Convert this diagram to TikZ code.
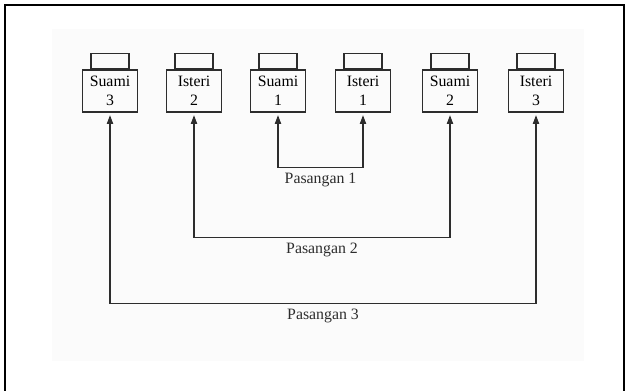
\documentclass[tikz,border=0pt]{standalone}
\usepackage{fontspec}
\setmainfont{Liberation Serif}
\usetikzlibrary{arrows.meta,positioning}
\definecolor{inkgray}{RGB}{45,45,45}
\definecolor{scangray}{RGB}{251,251,251}

\begin{document}
\begin{tikzpicture}[x=0.02cm, y=-0.02cm, >={Triangle[length=5pt,width=3.6pt]},
    person/.style={draw=inkgray, line width=0.65pt, minimum width=1.1cm, minimum height=0.84cm,
      align=center, inner sep=1pt, font=\fontsize{9}{11}\selectfont},
    tab/.style={draw=inkgray, line width=0.65pt, minimum width=0.76cm, minimum height=0.3cm, inner sep=0pt},
    pair/.style={inkgray, line width=0.65pt, <->, shorten <=1.5pt, shorten >=1.5pt},
    pairlabel/.style={below, inner sep=3pt, font=\fontsize{9}{11}\selectfont}]
    \useasboundingbox (0,0) rectangle (627,391);
    % frame and scanned page
    \fill[scangray] (52,29) rectangle (584,361);
    \draw[line width=1.2pt] (5,391) -- (5,5) -- (624,5) -- (624,391);

    % suami and isteri
    \node[person] (s3) at (110,91) {Suami\\3};
    \node[person] (i2) at (194,91) {Isteri\\2};
    \node[person] (s1) at (278,91) {Suami\\1};
    \node[person] (i1) at (363,91) {Isteri\\1};
    \node[person] (s2) at (450,91) {Suami\\2};
    \node[person] (i3) at (536,91) {Isteri\\3};
    \foreach \p in {s3,i2,s1,i1,s2,i3}
      \node[tab, above=0pt of \p] (\p tab) {};

    % pasangan
    \draw[pair] (s1.south) -- ++(0,55) -| node[pairlabel, pos=0.25] (lbl1) {Pasangan 1} (i1.south);
    \draw[pair] (i2.south) -- ++(0,125) -| node[pairlabel, pos=0.25] (lbl2) {Pasangan 2} (s2.south);
    \draw[pair] (s3.south) -- ++(0,191) -| node[pairlabel, pos=0.25] (lbl3) {Pasangan 3} (i3.south);
\end{tikzpicture}
\end{document}
